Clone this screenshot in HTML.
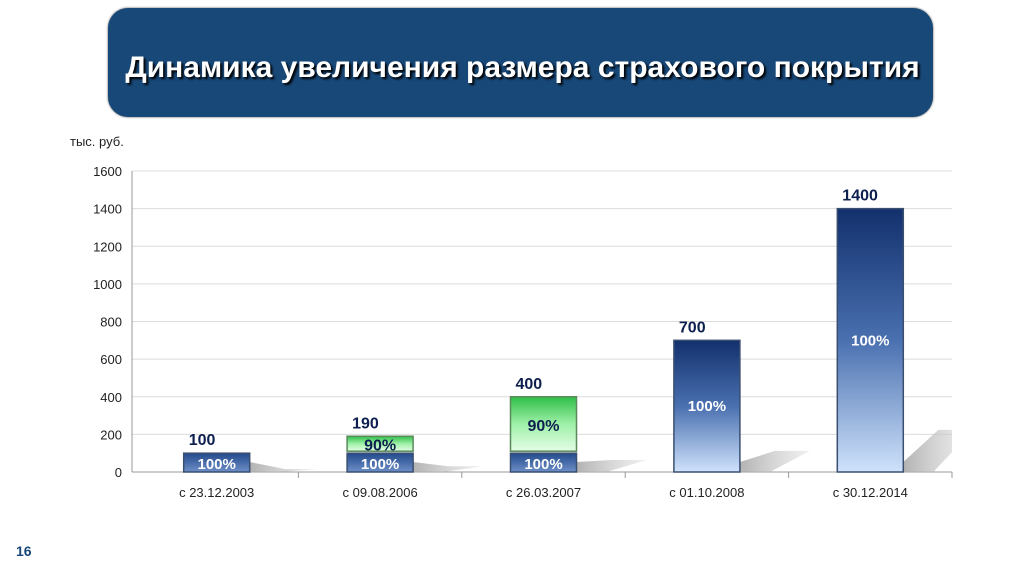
<!DOCTYPE html>
<html><head><meta charset="utf-8"><style>
body{margin:0;width:1024px;height:574px;background:#fff;overflow:hidden;font-family:"Liberation Sans",sans-serif;position:relative}
#title{position:absolute;left:108px;top:8px;width:825px;height:109px;border-radius:20px;background:#184878;color:#fff;font-weight:bold;font-size:30px;display:flex;align-items:center;justify-content:center;box-shadow:0 0 2px #555;text-shadow:2px 2px 2px #000;box-sizing:border-box;padding-top:10px;padding-left:4px}
#pg{position:absolute;left:16px;top:543px;font-size:14px;font-weight:bold;color:#184878}
svg{position:absolute;left:0;top:0}
</style></head><body>
<div id="title">Динамика увеличения размера страхового покрытия</div>
<div id="pg">16</div>
<svg id="chart" width="1024" height="574">
<defs>
<linearGradient id="gb" x1="0" y1="0" x2="0" y2="1"><stop offset="0" stop-color="#12306c"/><stop offset="0.5" stop-color="#4a70b0"/><stop offset="1" stop-color="#cfe2fb"/></linearGradient>
<linearGradient id="gs" x1="0" y1="0" x2="0" y2="1"><stop offset="0" stop-color="#244a8c"/><stop offset="1" stop-color="#6d8fc8"/></linearGradient>
<linearGradient id="gg" x1="0" y1="0" x2="0" y2="1"><stop offset="0" stop-color="#2fbf48"/><stop offset="0.5" stop-color="#9ef0a8"/><stop offset="1" stop-color="#e4fde6"/></linearGradient>
<linearGradient id="sh" x1="0" y1="0" x2="1" y2="0"><stop offset="0" stop-color="#aaa"/><stop offset="1" stop-color="#ddd" stop-opacity="0.5"/></linearGradient>
<clipPath id="plotclip"><rect x="132" y="150" width="820" height="323"/></clipPath>
</defs>
</svg>
<script>
const categories=["с 23.12.2003","с 09.08.2006","с 26.03.2007","с 01.10.2008","с 30.12.2014"];
const baseValues=[100,100,100,700,1400];
const addValues=[0,90,300,0,0];
const totalLabels=["100","190","400","700","1400"];
const baseLabels=["100%","100%","100%","100%","100%"];
const addLabels=["","90%","90%","",""];
const yTicks=[0,200,400,600,800,1000,1200,1400,1600];
const NS="http://www.w3.org/2000/svg";
const svg=document.getElementById('chart');
const XA=132,X0=135,X1=952,Y0=472,Y1=171,YMAX=1600;
const y=v=>Y0-(v/YMAX)*(Y0-Y1);
const band=(X1-X0)/categories.length;
const xc=i=>X0+band*(i+0.5);
const BW=66;
function mk(t,a,txt){const e=document.createElementNS(NS,t);for(const k in a)e.setAttribute(k,a[k]);if(txt!==undefined)e.textContent=txt;svg.appendChild(e);return e;}
yTicks.forEach(v=>{
 const l=mk('line',{x1:XA,x2:X1,y1:y(v),y2:y(v),stroke:v?'#dcdcdc':'#999','stroke-width':1});
 
 
 const t=mk('text',{x:122,y:y(v)+5,'text-anchor':'end','font-size':13,fill:'#222'},v);
 
 
});
const ax=mk('line',{x1:XA,x2:XA,y1:Y1,y2:Y0,stroke:'#999'});


const un=mk('text',{x:70,y:146,'font-size':13,fill:'#222'},'тыс. руб.');


for(let i=1;i<=categories.length;i++){const tk=mk('line',{x1:X0+band*i,x2:X0+band*i,y1:Y0,y2:Y0+6,stroke:'#999'});
 
 }
categories.forEach((c,i)=>{
 const cx=xc(i),L=cx-BW/2,tot=baseValues[i]+addValues[i];
 const top=y(tot*0.16);
 const sh=mk('polygon',{points:`${L+BW},${Y0} ${L+BW},${Y0-10} ${L+BW+35},${top} ${L+BW+70},${top} ${L+BW+30},${Y0}`,fill:'url(#sh)',opacity:0.9,'clip-path':'url(#plotclip)'});
 
 
 const big=baseValues[i]>200;
 const b=mk('rect',{x:L,y:y(baseValues[i]),width:BW,height:Y0-y(baseValues[i]),fill:big?'url(#gb)':'url(#gs)',stroke:'#3a4f70','stroke-width':1.5});
 
 
 const bt=mk('text',{x:cx,y:big?(y(baseValues[i])+Y0)/2+5:Y0-3,'text-anchor':'middle','font-size':15,'font-weight':'bold',fill:'#fff'},baseLabels[i]);
 
 
 if(addValues[i]>0){
  const g=mk('rect',{x:L,y:y(tot),width:BW,height:y(baseValues[i])-y(tot)-2,fill:'url(#gg)',stroke:'#5a8a5a','stroke-width':1.5});
  
  
  const gt=mk('text',{x:cx,y:(y(tot)+y(baseValues[i]))/2+6,'text-anchor':'middle','font-size':16,'font-weight':'bold',fill:'#0d1f4f'},addLabels[i]);
  
  
 }
 const vt=mk('text',{x:L+5,y:y(tot)-8,'font-size':16,'font-weight':'bold',fill:'#0d1f4f'},totalLabels[i]);
 
 
 const ct=mk('text',{x:cx,y:497,'text-anchor':'middle','font-size':13,fill:'#222'},c);
 
 
});
</script>
</body></html>
